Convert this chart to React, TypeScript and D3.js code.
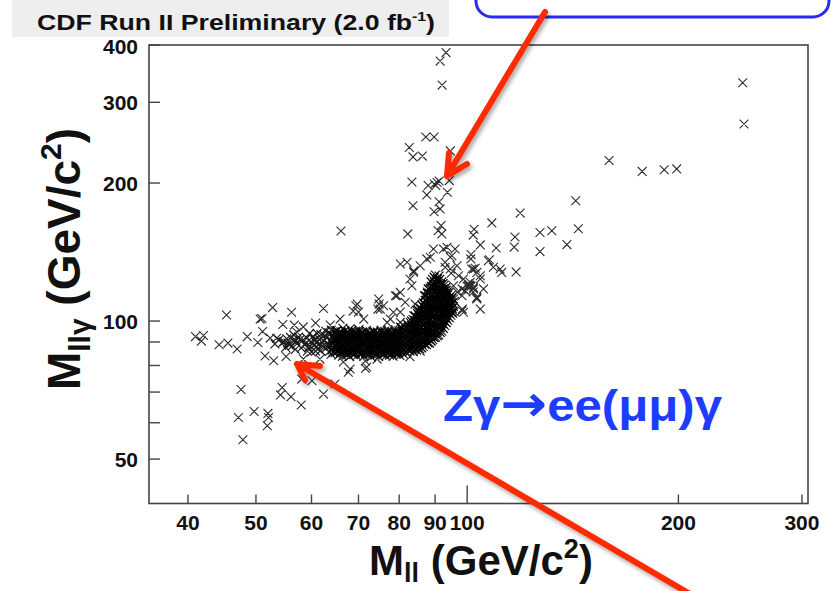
import React from "react";
import * as d3 from "d3";

type Pt = [number, number]; // [M_ll, M_llgamma] in GeV/c^2

const xTickValues = [40, 50, 60, 70, 80, 90, 100, 200, 300];
const xTickLabels = ["40", "50", "60", "70", "80", "90", "100", "200", "300"];
const yTickValues = [50, 60, 70, 80, 90, 100, 200, 300, 400];
const yLabelValues = [50, 100, 200, 300, 400];

// Final-state radiation band: M_llγ near the Z mass, M_ll below it
const fsrBand: Pt[] = [
  [53.9,91.0],[54.8,90.2],[55.5,89.5],[56.0,92.1],[56.3,88.2],[57.0,90.5],[57.8,91.2],[55.1,87.6],[53.2,89.1],[56.6,93.3],
  [58.2,90.6],[58.6,88.9],[59.1,91.8],[59.4,87.5],[59.9,90.1],[60.3,92.6],[60.5,88.4],[60.9,89.7],[61.3,86.9],[61.6,91.2],
  [61.9,93.4],[62.2,88.1],[62.5,90.4],[62.8,87.2],[63.0,92.1],[63.3,89.3],[63.6,85.8],[63.9,91.0],[57.5,92.3],[58.0,87.4],
  [60.0,85.6],[61.1,94.0],[62.9,95.0],[59.6,93.9],[57.2,89.2],[56.5,90.8],[55.8,88.6],[56.9,86.7],[55.3,91.5],[54.6,89.9],
  [61.0,88.0],[62.0,90.0],[63.2,87.8],[60.6,91.0],[59.0,89.5],[61.8,86.2],[62.6,93.0],[63.5,94.2],
  [64.0,84.6],[64.2,86.5],[63.9,88.3],[64.1,90.2],[64.3,92.0],[63.8,93.9],[64.0,95.6],
  [64.8,85.3],[64.6,87.2],[64.9,89.1],[64.7,91.0],[65.0,92.8],[64.8,94.7],
  [65.6,84.2],[65.4,86.0],[65.7,87.9],[65.5,89.8],[65.8,91.6],[65.6,93.4],[65.3,95.3],
  [66.4,83.8],[66.2,85.6],[66.5,87.5],[66.3,89.4],[66.6,91.2],[66.4,93.0],[66.1,94.8],[66.5,96.4],
  [67.2,84.9],[67.0,86.8],[67.3,88.6],[67.1,90.5],[67.4,92.3],[67.2,94.1],
  [68.0,83.6],[67.8,85.4],[68.1,87.3],[67.9,89.1],[68.2,91.0],[68.0,92.8],[67.7,94.6],[68.1,96.2],
  [68.8,84.5],[68.6,86.3],[68.9,88.2],[68.7,90.0],[69.0,91.9],[68.8,93.7],[68.5,95.5],
  [69.6,83.9],[69.4,85.8],[69.7,87.7],[69.5,89.5],[69.8,91.4],[69.6,93.2],[69.3,95.0],
  [70.4,84.8],[70.2,86.7],[70.5,88.5],[70.3,90.4],[70.6,92.2],[70.4,94.0],[70.1,95.8],
  [71.2,83.7],[71.0,85.5],[71.3,87.4],[71.1,89.2],[71.4,91.1],[71.2,92.9],[70.9,94.8],
  [72.1,84.4],[71.9,86.3],[72.2,88.1],[72.0,90.0],[72.3,91.8],[72.1,93.7],[71.8,95.5],
  [73.0,83.5],[72.8,85.2],[73.1,87.0],[72.9,88.8],[73.2,90.7],[73.0,92.5],[72.7,94.3],
  [73.9,84.2],[73.7,86.0],[74.0,87.9],[73.8,89.7],[74.1,91.6],[73.9,93.4],[73.6,95.2],
  [74.8,83.6],[74.6,85.4],[74.9,87.2],[74.7,89.1],[75.0,90.9],[74.8,92.8],[74.5,94.6],
  [75.7,84.5],[75.5,86.4],[75.8,88.2],[75.6,90.1],[75.9,91.9],[75.7,93.8],[75.4,95.6],
  [76.6,83.9],[76.4,85.7],[76.7,87.6],[76.5,89.4],[76.8,91.3],[76.6,93.1],[76.3,95.0],
  [77.5,84.3],[77.3,86.2],[77.6,88.0],[77.4,89.9],[77.7,91.7],[77.5,93.6],[77.2,95.4],
  [78.4,83.8],[78.2,85.6],[78.5,87.5],[78.3,89.3],[78.6,91.2],[78.4,93.0],[78.1,94.9],
  [79.3,84.6],[79.1,86.5],[79.4,88.3],[79.2,90.2],[79.5,92.0],[79.3,93.9],[79.0,95.7],
  [80.2,84.1],[80.0,85.9],[80.3,87.8],[80.1,89.6],[80.4,91.5],[80.2,93.3],[79.9,95.2],[80.3,97.0],
  [81.1,84.8],[80.9,86.7],[81.2,88.5],[81.0,90.4],[81.3,92.2],[81.1,94.1],[80.8,96.0],[81.2,97.8],
];

// Second layer of the FSR band, between the rows above
const fsrCore: Pt[] = [
  [64.4,85.6],[64.5,87.5],[64.3,89.3],[64.6,91.1],[64.4,93.0],
  [65.2,85.9],[65.1,87.8],[65.3,89.6],[65.0,91.5],[65.2,93.3],[65.1,95.1],
  [66.0,85.1],[65.9,87.0],[66.1,88.8],[65.8,90.7],[66.0,92.5],[66.1,94.2],
  [66.8,85.7],[66.7,87.6],[66.9,89.5],[66.6,91.3],[66.8,93.1],[66.9,95.2],
  [67.6,84.6],[67.5,86.5],[67.7,88.4],[67.4,90.2],[67.6,92.0],[67.7,93.8],
  [68.4,85.3],[68.3,87.2],[68.5,89.0],[68.2,90.9],[68.4,92.7],[68.5,94.5],
  [69.2,85.0],[69.1,86.9],[69.3,88.7],[69.0,90.6],[69.2,92.4],[69.3,94.2],
  [70.0,85.6],[69.9,87.5],[70.1,89.3],[69.8,91.2],[70.0,93.0],[70.1,94.9],
  [70.8,84.9],[70.7,86.8],[70.9,88.6],[70.6,90.5],[70.8,92.3],[70.9,94.1],
  [71.7,85.2],[71.6,87.1],[71.8,88.9],[71.5,90.8],[71.7,92.6],[71.8,94.4],
  [72.6,84.6],[72.5,86.5],[72.7,88.3],[72.4,90.2],[72.6,92.0],[72.7,93.9],
  [73.5,85.3],[73.4,87.2],[73.6,89.0],[73.3,90.9],[73.5,92.7],[73.6,94.5],
  [74.4,84.9],[74.3,86.8],[74.5,88.6],[74.2,90.5],[74.4,92.3],[74.5,94.1],
  [75.3,85.5],[75.2,87.4],[75.4,89.2],[75.1,91.1],[75.3,92.9],[75.4,94.7],
  [76.2,84.8],[76.1,86.7],[76.3,88.5],[76.0,90.4],[76.2,92.2],[76.3,94.0],
  [77.1,85.3],[77.0,87.2],[77.2,89.0],[76.9,90.9],[77.1,92.7],[77.2,94.5],
  [78.0,84.7],[77.9,86.6],[78.1,88.4],[77.8,90.3],[78.0,92.1],[78.1,94.0],
  [78.9,85.4],[78.8,87.3],[79.0,89.1],[78.7,91.0],[78.9,92.8],[79.0,94.7],
  [79.8,85.0],[79.7,86.9],[79.9,88.7],[79.6,90.6],[79.8,92.4],[79.9,94.3],
  [80.7,85.6],[80.6,87.5],[80.8,89.3],[80.5,91.2],[80.7,93.0],[80.8,94.9],[80.6,96.7],
];

// Corner where the FSR band turns into the ISR column at M_ll ≈ M_Z
const zCorner: Pt[] = [
  [82.0,85.4],[81.8,87.3],[82.1,89.1],[81.9,91.0],[82.2,92.9],[82.0,94.8],[81.7,96.6],[82.1,98.5],
  [82.9,86.0],[82.7,87.9],[83.0,89.8],[82.8,91.6],[83.1,93.5],[82.9,95.4],[82.6,97.3],[83.0,99.2],
  [83.8,85.7],[83.6,87.6],[83.9,89.5],[83.7,91.4],[84.0,93.2],[83.8,95.1],[83.5,97.0],[83.9,98.9],[83.7,100.8],
  [84.7,86.4],[84.5,88.3],[84.8,90.2],[84.6,92.1],[84.9,94.0],[84.7,95.9],[84.4,97.8],[84.8,99.7],[84.6,101.8],[84.9,104.0],
  [85.6,86.9],[85.4,88.8],[85.7,90.7],[85.5,92.6],[85.8,94.5],[85.6,96.4],[85.3,98.3],[85.7,100.2],[85.5,102.4],[85.8,104.6],[85.6,107.0],
  [86.6,88.0],[86.4,90.0],[86.7,92.0],[86.5,94.0],[86.8,96.0],[86.6,98.0],[86.3,100.2],[86.7,102.4],[86.5,104.7],[86.8,107.1],[86.6,109.6],
  [87.5,88.8],[87.3,90.8],[87.6,92.8],[87.4,94.8],[87.7,96.8],[87.5,98.9],[87.2,101.1],[87.6,103.4],[87.4,105.8],[87.7,108.3],[87.5,110.9],[87.3,113.6],
  [88.4,89.5],[88.2,91.5],[88.5,93.5],[88.3,95.5],[88.6,97.6],[88.4,99.8],[88.1,102.1],[88.5,104.5],[88.3,107.0],[88.6,109.6],[88.4,112.3],[88.2,115.1],[88.5,118.0],
  [89.3,91.0],[89.1,93.0],[89.4,95.0],[89.2,97.1],[89.5,99.3],[89.3,101.5],[89.0,103.8],[89.4,106.3],[89.2,108.9],[89.5,111.6],[89.3,114.4],[89.1,117.3],[89.4,120.3],[89.2,123.4],
  [90.2,92.2],[90.0,94.3],[90.3,96.4],[90.1,98.6],[90.4,100.9],[90.2,103.2],[89.9,105.7],[90.3,108.3],[90.1,111.0],[90.4,113.8],[90.2,116.7],[90.0,119.7],[90.3,122.8],[90.1,126.0],
  [91.1,93.3],[90.9,95.6],[91.2,97.8],[91.0,100.1],[91.3,102.5],[91.1,105.0],[90.8,107.6],[91.2,110.3],[91.0,113.1],[91.3,116.0],[91.1,119.0],[90.9,122.1],[91.2,125.3],
  [92.0,95.0],[91.8,97.4],[92.1,99.7],[91.9,102.1],[92.2,104.6],[92.0,107.2],[91.7,109.9],[92.1,112.7],[91.9,115.6],[92.2,118.6],[92.0,121.7],
  [92.9,97.8],[92.7,100.2],[93.0,102.7],[92.8,105.3],[93.1,108.0],[92.9,110.8],[92.6,113.7],[93.0,116.7],[92.8,119.8],
  [93.8,100.4],[93.6,102.9],[93.9,105.5],[93.7,108.2],[94.0,111.0],[93.8,113.9],[93.5,116.9],
  [94.8,103.0],[94.6,105.6],[94.9,108.3],[94.7,111.1],[95.0,114.0],
  [95.8,104.8],[95.6,107.6],[95.9,110.5],
];

// Second layer of the corner, between the rows above
const cornerCore: Pt[] = [
  [82.45,86.7],[82.4,88.6],[82.5,90.4],[82.3,92.3],[82.5,94.1],[82.4,96.0],[82.5,97.9],
  [83.35,86.8],[83.3,88.7],[83.4,90.6],[83.2,92.5],[83.4,94.3],[83.3,96.2],[83.4,98.1],[83.3,100.0],
  [84.25,87.0],[84.2,88.9],[84.3,90.8],[84.1,92.7],[84.3,94.6],[84.2,96.5],[84.3,98.4],[84.2,100.3],[84.3,102.6],
  [85.15,87.6],[85.1,89.5],[85.2,91.4],[85.0,93.3],[85.2,95.2],[85.1,97.1],[85.2,99.0],[85.1,101.0],[85.2,103.3],[85.1,105.6],
  [86.1,87.4],[86.0,89.3],[86.2,91.2],[86.0,93.1],[86.2,95.0],[86.1,97.0],[86.2,99.1],[86.0,101.3],[86.2,103.6],[86.1,105.9],[86.2,108.3],
  [87.05,89.0],[87.0,91.0],[87.1,93.0],[86.9,95.0],[87.1,97.0],[87.0,99.1],[87.1,101.3],[86.9,103.6],[87.1,106.0],[87.0,108.5],[87.1,111.0],[86.9,113.5],
  [87.95,89.6],[87.9,91.6],[88.0,93.6],[87.8,95.6],[88.0,97.7],[87.9,99.9],[88.0,102.2],[87.8,104.6],[88.0,107.1],[87.9,109.6],[88.0,112.2],[87.8,114.9],[88.0,117.5],
  [88.85,90.4],[88.8,92.4],[88.9,94.4],[88.7,96.5],[88.9,98.6],[88.8,100.8],[88.9,103.1],[88.7,105.5],[88.9,108.0],[88.8,110.6],[88.9,113.3],[88.7,116.1],[88.9,119.0],[88.8,121.8],
  [89.75,92.0],[89.7,94.0],[89.8,96.1],[89.6,98.2],[89.8,100.4],[89.7,102.7],[89.8,105.0],[89.6,107.5],[89.8,110.1],[89.7,112.8],[89.8,115.6],[89.6,118.5],[89.8,121.5],[89.7,124.6],
  [90.65,92.9],[90.6,95.0],[90.7,97.1],[90.5,99.3],[90.7,101.6],[90.6,104.0],[90.7,106.5],[90.5,109.1],[90.7,111.8],[90.6,114.6],[90.7,117.5],[90.5,120.5],[90.7,123.6],
  [91.55,94.4],[91.5,96.6],[91.6,98.8],[91.4,101.2],[91.6,103.6],[91.5,106.1],[91.6,108.7],[91.4,111.5],[91.6,114.3],[91.5,117.2],[91.6,120.2],[91.4,123.3],
  [92.45,96.4],[92.4,98.7],[92.5,101.1],[92.3,103.6],[92.5,106.2],[92.4,108.9],[92.5,111.7],[92.3,114.6],[92.5,117.6],[92.4,120.7],
  [93.35,99.2],[93.3,101.6],[93.4,104.1],[93.2,106.7],[93.4,109.4],[93.3,112.2],[93.4,115.2],[93.2,118.2],
  [94.3,101.7],[94.2,104.2],[94.3,106.8],[94.1,109.6],[94.3,112.4],[94.2,115.4],
  [95.3,104.0],[95.2,106.6],[95.3,109.3],[95.1,112.2],
];

// Initial-state radiation: M_ll ≈ M_Z, M_llγ well above it
const isrTail: Pt[] = [
  [93.3,385],[91.5,369],[92.1,327],[87.3,252],[89.7,252],[82.7,239],[83.7,228],[86.3,229],[94.6,235],[83.4,201],
  [90.6,200.5],[89.8,199.0],[91.2,202.0],[90.2,197.5],[88.0,197.5],[94.3,202.4],[93.7,191],[87.6,188.4],[83.7,178.5],
  [91.2,182],[89.7,173.2],[91.5,175.6],[90.9,157.4],[82.3,154.9],[91.8,161.5],[92.0,154.9],
  [89.5,143.6],[92.5,143.6],[94.6,137.8],[87.6,136.6],[83.9,127.7],[82.1,134.3],[97.2,125.6],[98.8,123.5],[95.6,119.4],
  [98.3,117.5],[101.2,136.6],[102.7,130.3],[104.4,125.6],[101.0,119.4],[103.2,112.6],[111.4,129.9],[107.2,135.4],
  [95.1,138.8],[88.6,137.8],[93.0,134.3],[94.6,129.9],[85.7,132.0],[83.9,128.7],[101.0,121.5],[102.1,129.9],[80.3,133.2],
  [98.3,113.6],[103.2,111.7],[102.1,117.5],[104.4,106.2],[98.8,104.5],[100.4,119.4],
  [93.6,144.8],[96.1,143.6],[93.0,131.0],[96.7,132.0],[101.5,129.9],[104.4,123.5],[99.3,116.5],[95.6,111.7],
  [102.1,118.3],[105.5,117.5],[100.8,119.8],[100.2,120.6],[101.3,119.1],
];

// Isolated candidates away from the two bands
const scattered: Pt[] = [
  [45.4,103.1],[41.0,92.5],[42.1,93.0],[41.8,90.4],[44.3,88.8],[45.6,89.5],[47.0,86.9],[48.6,92.5],[50.3,89.8],[50.7,101.0],
  [52.8,107.0],[51.0,101.3],[56.2,104.5],[62.4,106.5],[54.6,98.3],[51.1,94.9],[52.4,91.8],[53.5,91.7],[56.7,98.0],[57.2,94.5],
  [51.5,83.9],[53.0,81.9],[55.2,83.7],[58.1,74.7],[60.1,74.1],[62.4,69.3],[54.5,71.6],[54.2,69.0],[56.1,68.4],[58.0,65.6],
  [47.6,70.9],[47.2,61.6],[49.7,63.5],[52.0,62.9],[52.1,61.6],[51.9,59.1],[47.9,55.1],[64.8,72.9],[67.7,77.3],[71.6,78.8],
  [69.4,108.0],[74.8,111.7],[75.2,106.2],[79.4,113.6],[65.9,101.0],[71.2,101.0],[69.7,108.9],[83.4,119.4],[68.8,105.1],[70.0,104.6],
  [74.6,106.2],[74.9,108.9],[77.7,101.0],[80.3,104.6],[84.9,105.1],[84.3,108.9],[87.7,115.7],[88.6,110.0],[96.8,115.7],[100.0,119.0],
  [98.4,106.2],[95.2,104.6],[102.0,115.7],[58.4,97.1],[60.8,99.0],[63.8,98.0],[76.0,108.0],[78.5,104.5],[81.6,109.9],[83.9,102.7],
  [76.9,99.3],[80.3,99.3],[79.0,113.6],[82.9,123.5],[80.3,115.5],
  [68.1,78.6],[71.9,79.4],[71.6,81.8],[74.4,82.6],[66.6,81.4],[59.7,88.2],[59.2,86.0],[60.8,86.0],[61.7,82.6],[58.4,82.6],[82.9,83.6],[85.7,86.0],
  [119,172],[108.4,163.7],[102.3,158.5],[102,154],[142.8,183],[144,159],[127,156],[132,157.3],[117,152.5],[116.7,145],
  [127,141.7],[138.7,146.8],[104.4,146.6],[110,144.3],[101.3,139.6],[107.6,136.1],[112,127.7],[117.4,128],[109,131],[103.2,127.7],
  [103.2,112.1],[98.3,105.3],[94.9,127.1],[159.3,224],[177.6,212],[190.9,213.7],[198.9,214.7],[247,331],[248,269],[66.1,157.2],
];

const FONT = "'Liberation Sans', Arial, Helvetica, sans-serif";

function Arrow({ from, to, arms }: { from: Pt; to: Pt; arms: [Pt, Pt] }) {
  const d = `M${from[0]},${from[1]}L${to[0]},${to[1]}M${arms[0][0]},${arms[0][1]}L${to[0]},${to[1]}L${arms[1][0]},${arms[1][1]}`;
  return (
    <path d={d} fill="none" stroke="#ff2a00" strokeWidth={6} strokeLinecap="round" strokeLinejoin="round" filter="url(#shadow)" />
  );
}

export default function App() {
  const W = 831;
  const H = 591;
  const left = 149, right = 808, top = 45, bottom = 503.5;
  const x = d3.scaleLog().domain([35.2, 306]).range([left, right]);
  const y = d3.scaleLog().domain([40, 400]).range([bottom, top]);

  const r = 4.4;
  const crossPath = (pts: Pt[]) =>
    pts
      .map(([a, b]) => {
        const cx = x(a), cy = y(b);
        return `M${(cx - r).toFixed(1)},${(cy - r).toFixed(1)}L${(cx + r).toFixed(1)},${(cy + r).toFixed(1)}M${(cx - r).toFixed(1)},${(cy + r).toFixed(1)}L${(cx + r).toFixed(1)},${(cy - r).toFixed(1)}`;
      })
      .join("");

  return (
    <svg width={W} height={H} viewBox={`0 0 ${W} ${H}`} style={{ position: "absolute", left: 0, top: 0, background: "#fff" }} fontFamily={FONT}>
      <defs>
        <filter id="shadow" x="-20%" y="-20%" width="140%" height="140%">
          <feDropShadow dx={2} dy={3} stdDeviation={2} floodColor="#000" floodOpacity={0.35} />
        </filter>
        <clipPath id="plotArea">
          <rect x={left} y={top} width={right - left} height={bottom - top} />
        </clipPath>
      </defs>

      {/* header strip */}
      <rect x={12} y={0} width={437} height={37} fill="#eeeeee" />
      <text x={37} y={30} fontSize={22} fontWeight="bold" fill="#111" textLength={398} lengthAdjust="spacingAndGlyphs">
        CDF Run II Preliminary (2.0 fb<tspan dy={-9} fontSize={13}>-1</tspan><tspan dy={9}>)</tspan>
      </text>

      {/* callout box */}
      <rect x={476} y={-40} width={353} height={57} rx={16} ry={16} fill="#fff" stroke="#2a2aee" strokeWidth={3} />

      {/* markers */}
      <g clipPath="url(#plotArea)" fill="none">
        <path d={crossPath([...isrTail, ...scattered])} stroke="#2e2e2e" strokeWidth={1.1} />
        <path d={crossPath([...fsrBand, ...zCorner])} stroke="#1a1a1a" strokeWidth={1.2} />
        <path d={crossPath([...fsrCore, ...cornerCore])} stroke="#000" strokeWidth={1.3} />
      </g>

      {/* frame */}
      <rect x={left} y={top} width={right - left} height={bottom - top} fill="none" stroke="#444" strokeWidth={1.6} />

      {/* y ticks */}
      {yTickValues.map((v) => (
        <line key={"yt" + v} x1={left} x2={left + 11} y1={y(v)} y2={y(v)} stroke="#444" strokeWidth={1.4} />
      ))}
      {yLabelValues.map((v) => (
        <text key={"yl" + v} x={138} y={y(v) + (v === 400 ? 9 : 8)} textAnchor="end" fontSize={21} fontWeight="bold" fill="#111">
          {v}
        </text>
      ))}

      {/* x ticks */}
      {xTickValues.map((v) => (
        <line key={"xt" + v} x1={x(v)} x2={x(v)} y1={bottom} y2={bottom - (v === 100 ? 18 : 9)} stroke="#444" strokeWidth={1.4} />
      ))}
      {xTickValues.map((v, i) => (
        <text key={"xl" + v} x={x(v)} y={530} textAnchor="middle" fontSize={21} fontWeight="bold" fill="#111">
          {xTickLabels[i]}
        </text>
      ))}

      {/* axis titles */}
      <text x={481} y={575} textAnchor="middle" fontSize={42} fontWeight="bold" fill="#111">
        M<tspan fontSize={27} dy={7}>ll</tspan>
        <tspan dy={-7}> (GeV/c</tspan>
        <tspan fontSize={27} dy={-17}>2</tspan>
        <tspan dy={17}>)</tspan>
      </text>
      <text transform="translate(80,259) rotate(-90)" textAnchor="middle" fontSize={46} fontWeight="bold" fill="#111">
        M<tspan fontSize={30} dy={10}>llγ</tspan>
        <tspan dy={-10}> (GeV/c</tspan>
        <tspan fontSize={30} dy={-19}>2</tspan>
        <tspan dy={19}>)</tspan>
      </text>

      {/* process label */}
      <text x={443} y={421} fontSize={44} fontWeight="bold" fill="#1e3cff" textLength={279} lengthAdjust="spacingAndGlyphs">
        Zγ<tspan fontFamily="'DejaVu Sans'" fontSize={50}>→</tspan>ee(μμ)γ
      </text>

      {/* arrows */}
      <Arrow from={[545, 12]} to={[447, 176]} arms={[[467, 164], [449, 153]]} />
      <Arrow from={[690, 594]} to={[297, 364]} arms={[[305, 380], [320, 366]]} />
    </svg>
  );
}
